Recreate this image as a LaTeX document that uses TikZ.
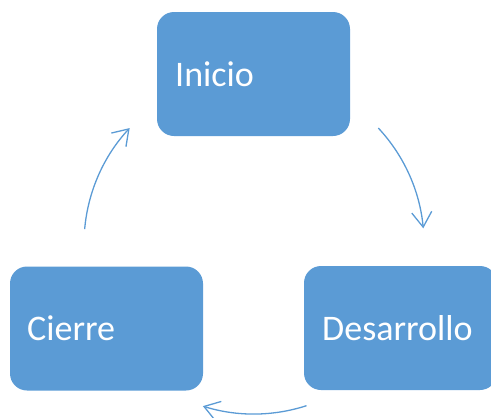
\documentclass[tikz,border=0pt]{standalone}
\usepackage{fontspec}
\setmainfont{Carlito}
\usetikzlibrary{arrows.meta}
\definecolor{boxblue}{HTML}{5B9BD5}
\tikzset{
  stage/.style={fill=boxblue, draw=none, rounded corners=17pt, minimum width=193pt, minimum height=124pt,
    inner sep=0pt, outer sep=0pt},
  stagetext/.style={text=white, font=\fontsize{36}{40}\selectfont, anchor=west, inner sep=0pt},
  cyc/.style={draw=boxblue, line width=1.3pt, -{Straight Barb[length=15pt, width=20pt, line width=1.3pt]}}
}
\begin{document}
\begin{tikzpicture}[x=1pt, y=-1pt]
\useasboundingbox (0,0) rectangle (491,418);
\clip (0,0) rectangle (491,418);
\node[stage] (inicio) at (253.5,74) {};
\node[stage] (cierre) at (106.5,328.5) {};
\node[stage] (desarrollo) at (400.5,328) {};
\node[stagetext] (tinicio) at (175,74) {Inicio};
\node[stagetext] (tcierre) at (27,328.5) {Cierre};
\node[stagetext] (tdesarrollo) at (322,328) {Desarrollo};
% arcs around centre (254,244), radius 170
\coordinate (c) at (254,244);
\path (c) ++(-43:170) coordinate (a1);
\path (c) ++(72:170) coordinate (a2);
\path (c) ++(-175:170) coordinate (a3);
\draw[cyc] (a1) arc[start angle=-43, end angle=-5.3, radius=170];
\draw[cyc] (a2) arc[start angle=72, end angle=107.5, radius=170];
\draw[cyc] (a3) arc[start angle=-175, end angle=-137, radius=170];
\end{tikzpicture}
\end{document}
